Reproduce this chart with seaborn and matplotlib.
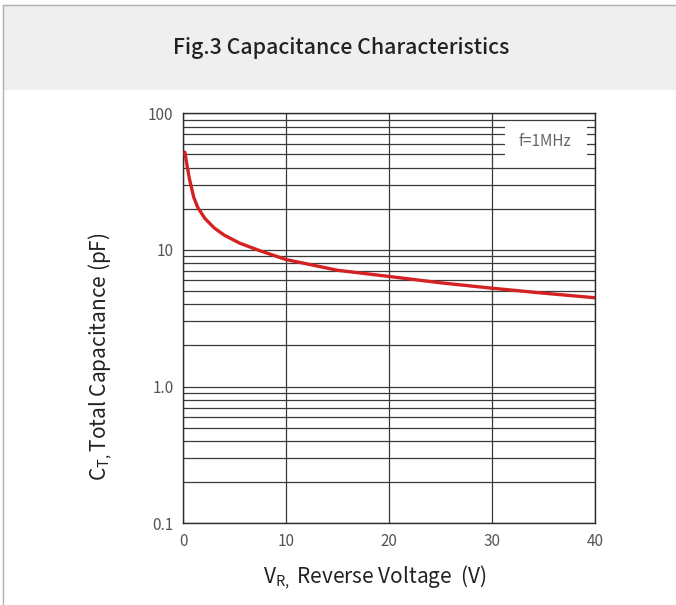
import numpy as np
import pandas as pd
import matplotlib
matplotlib.use("Agg")
import matplotlib.pyplot as plt
import seaborn as sns
from matplotlib.patches import Rectangle
from matplotlib.lines import Line2D
from matplotlib.ticker import FixedLocator, NullFormatter

# Data
voltage = [0.15, 0.35, 0.6, 1.0, 1.4, 2.1, 3.0, 4.0, 5.5, 7.4, 10, 15, 20, 25, 30, 35, 40]
capacitance = [52, 42, 33, 24.5, 20.5, 17.0, 14.5, 12.8, 11.2, 9.9, 8.5, 7.1, 6.4, 5.75, 5.25, 4.83, 4.47]
x_ticks = [0, 10, 20, 30, 40]
y_ticks = [0.1, 1.0, 10, 100]
y_tick_labels = ["0.1", "1.0", "10", "100"]

title = "Fig.3 Capacitance Characteristics"
note = "f=1MHz"
xlabel = r"V$_{\mathrm{R,}}$ Reverse Voltage  (V)"
ylabel = r"C$_{\mathrm{T,}}$Total Capacitance (pF)"

sns.set_style("white")
FONT = ["Noto Sans CJK JP", "DejaVu Sans"]
plt.rcParams["font.family"] = FONT
plt.rcParams["mathtext.fontset"] = "custom"
plt.rcParams["mathtext.rm"] = "Noto Sans CJK JP"
plt.rcParams["mathtext.it"] = "Noto Sans CJK JP"

df = pd.DataFrame({"V": voltage, "C": capacitance})

W, H = 676, 605
fig = plt.figure(figsize=(W / 100, H / 100), dpi=100)

# Header band and border
fig.patches.append(Rectangle((3 / W, 1 - 90 / H), 1 - 3 / W, 85 / H,
                             transform=fig.transFigure, facecolor="#efefef",
                             edgecolor="none", zorder=0))
fig.lines.append(Line2D([3 / W, 1], [1 - 5 / H, 1 - 5 / H], transform=fig.transFigure,
                        color="#b0b0b0", lw=1.0))
fig.lines.append(Line2D([3 / W, 3 / W], [0, 1 - 5 / H], transform=fig.transFigure,
                        color="#b0b0b0", lw=1.0))
fig.text(341 / W, 1 - 48 / H, title, ha="center", va="center", fontsize=15.3,
         fontweight="medium", color="#222222")

L, R, T, B = 183.3, 595, 113.3, 523.3
ax = fig.add_axes([L / W, 1 - B / H, (R - L) / W, (B - T) / H])
ax.set_yscale("log")
ax.set_xlim(0, 40)
ax.set_ylim(0.1, 100)

# grid
minor = [m * 10.0 ** e for e in (-1, 0, 1) for m in range(2, 10)]
ax.yaxis.set_major_locator(FixedLocator(y_ticks))
ax.yaxis.set_minor_locator(FixedLocator(minor))
ax.yaxis.set_minor_formatter(NullFormatter())
ax.set_yticklabels(y_tick_labels)
ax.set_xticks(x_ticks)
ax.grid(True, which="both", axis="y", color="#3a3a3a", lw=0.9)
ax.grid(True, which="major", axis="x", color="#3a3a3a", lw=0.9)
ax.tick_params(which="both", length=0, labelsize=11, labelcolor="#555555", pad=7)
for s in ax.spines.values():
    s.set_color("#2a2a2a")
    s.set_linewidth(1.0)
    s.set_visible(True)

sns.lineplot(data=df, x="V", y="C", ax=ax, color="#d42222", lw=2.4, zorder=5)
ax.set_xlabel("")
ax.set_ylabel("")

fig.text(375 / W, 1 - 577 / H, xlabel, ha="center", va="center", fontsize=15, color="#222222")
fig.text(100 / W, 1 - 357 / H, ylabel, ha="center", va="center", rotation=90,
         fontsize=15, color="#222222")

# note box (white background covering the grid)
bx0, bx1, by0, by1 = 505, 587, 125, 160
ax.add_patch(Rectangle(((bx0 - L) / (R - L), (B - by1) / (B - T)),
                       (bx1 - bx0) / (R - L), (by1 - by0) / (B - T),
                       transform=ax.transAxes, facecolor="white", edgecolor="none", zorder=4))
ax.text((545 - L) / (R - L), (B - 141) / (B - T), note, transform=ax.transAxes,
        ha="center", va="center", fontsize=11, color="#666666", zorder=6)

fig.savefig("out.png", dpi=100)
